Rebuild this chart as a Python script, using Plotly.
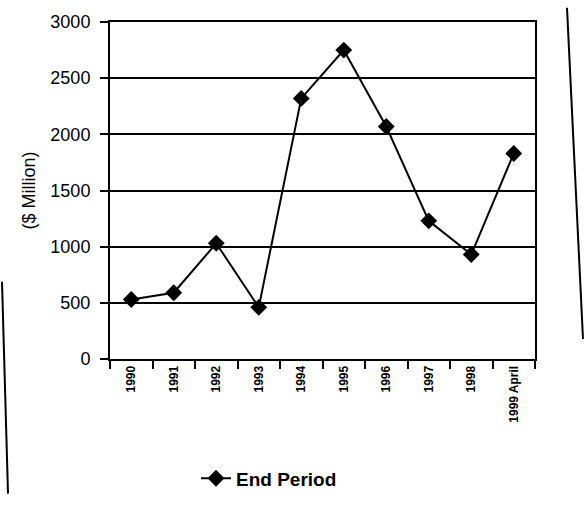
import plotly.graph_objects as go

# Data
periods = ["1990", "1991", "1992", "1993", "1994", "1995", "1996", "1997", "1998", "1999 April"]
end_period = [530, 590, 1030, 460, 2320, 2750, 2070, 1230, 930, 1830]
y_ticks = [0, 500, 1000, 1500, 2000, 2500, 3000]

L, R, T, B = 110, 49, 15, 141
W, H = 584, 509
pw, ph = W - L - R, H - T - B


def px(x):
    return (x - L) / pw


def py(y):
    return (H - B - y) / ph


FONT = "Liberation Sans, Arial, sans-serif"

fig = go.Figure()
fig.add_trace(go.Scatter(
    x=periods, y=end_period, mode="lines+markers", name="End Period",
    line=dict(color="black", width=2),
    marker=dict(symbol="diamond", size=13, color="black"),
))

fig.update_layout(
    width=W, height=H,
    margin=dict(l=L, r=R, t=T, b=B),
    paper_bgcolor="white", plot_bgcolor="white",
    font=dict(family=FONT, color="black"),
    showlegend=True,
    legend=dict(
        x=px(196), y=py(493), xanchor="left", yanchor="middle",
        orientation="h",
        font=dict(size=19, color="black", family=FONT, weight="bold"),
        bgcolor="rgba(0,0,0,0)",
    ),
    xaxis=dict(
        type="category", categoryorder="array", categoryarray=periods,
        range=[-0.5, len(periods) - 0.5],
        showline=True, linecolor="black", linewidth=2, mirror=True,
        ticks="outside", ticklen=8, tickwidth=2, tickcolor="black",
        tickson="boundaries", tickangle=-90,
        tickfont=dict(size=12, color="black", weight="bold"),
        showgrid=False, zeroline=False,
    ),
    yaxis=dict(
        range=[0, 3000], tickvals=y_ticks,
        showline=True, linecolor="black", linewidth=2, mirror=True,
        ticks="outside", ticklen=8, tickwidth=2, tickcolor="black",
        ticklabelstandoff=6,
        tickfont=dict(size=18, color="black"),
        showgrid=True, gridcolor="black", gridwidth=2,
        zeroline=False,
        title=dict(text="($ Million)", font=dict(size=18, color="black"), standoff=10),
    ),
    shapes=[
        dict(type="line", xref="paper", yref="paper",
             x0=px(2), y0=py(287), x1=px(8), y1=py(509),
             line=dict(color="black", width=2)),
        dict(type="line", xref="paper", yref="paper",
             x0=px(567), y0=py(0), x1=px(583), y1=py(347),
             line=dict(color="black", width=2)),
    ],
)

fig.write_html("out.html")
